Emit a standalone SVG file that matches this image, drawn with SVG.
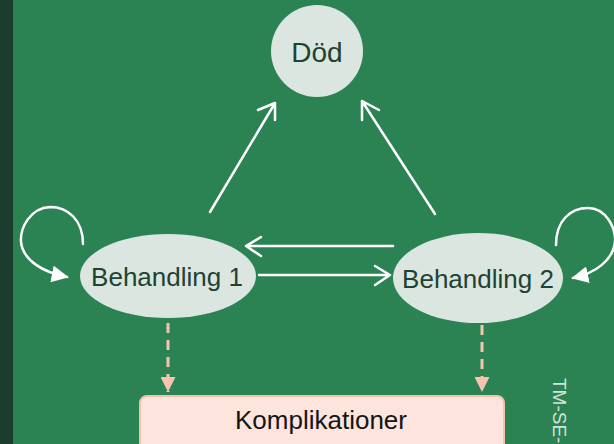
<svg xmlns="http://www.w3.org/2000/svg" width="614" height="444" viewBox="0 0 614 444">
<style>
.node{fill:#dce6e1}
.lbl{font-family:"Liberation Sans",Arial,sans-serif;font-size:26px;fill:#1d4332;text-anchor:middle}
.wl{stroke:#ffffff;stroke-width:2.5;fill:none;stroke-linecap:round;stroke-linejoin:round}
.dash{stroke:#f7c4b0;stroke-width:3;fill:none;stroke-dasharray:10 7}
</style>
<defs>
<marker id="tri" viewBox="0 0 10 10" refX="10" refY="5" markerWidth="15" markerHeight="15" markerUnits="userSpaceOnUse" orient="auto">
<path d="M0,0 L10,5 L0,10 Z" fill="#f7c4b0"/>
</marker>
<marker id="wtri" viewBox="0 0 10 10" refX="9" refY="5" markerWidth="17" markerHeight="17" markerUnits="userSpaceOnUse" orient="auto">
<path d="M0,0 L10,5 L0,10 Z" fill="#ffffff"/>
</marker>
</defs>
<rect x="0" y="0" width="614" height="444" fill="#2b8354"/>
<rect x="0" y="0" width="13" height="444" fill="#1a3d2d"/>

<g id="connectors">
<path class="wl" d="M210,212 L275,103 M258,110 L275,103 L275,120"/>
<path class="wl" d="M435,214 L362,101 M379,110 L362,101 L362,120"/>
<path class="wl" d="M393,246 L246,246 M261,237 L246,246 L261,256"/>
<path class="wl" d="M259,275 L390,275 M375,266 L390,275 L375,285"/>
<path class="wl" d="M83,244 C83,220 68,207 50,207 C30,208 20,228 21,242 C23,260 42,272 67,277" marker-end="url(#wtri)"/>
<path class="wl" d="M556,245 C556,221 570,208 588,208 C606,208 616,228 615,242 C613,260 596,273 573,278" marker-end="url(#wtri)"/>
<path class="dash" d="M168,323 L168,392" marker-end="url(#tri)"/>
<path class="dash" d="M482,325 L482,392" marker-end="url(#tri)"/>
</g>

<g id="dod">
<ellipse class="node" cx="317" cy="51" rx="46" ry="46"/>
<text class="lbl" x="317" y="62" style="font-size:28px">Död</text>
</g>
<g id="behandling1">
<ellipse class="node" cx="168" cy="276" rx="88" ry="42"/>
<text class="lbl" x="167" y="286">Behandling 1</text>
</g>
<g id="behandling2">
<ellipse class="node" cx="478" cy="278" rx="85" ry="45"/>
<text class="lbl" x="478" y="288">Behandling 2</text>
</g>
<g id="komplikationer">
<rect x="140" y="396" width="364" height="60" rx="7" fill="#fde4dc" stroke="#f6c0ac" stroke-width="2"/>
<text x="321" y="429" font-family="'Liberation Sans',Arial,sans-serif" font-size="26" fill="#151515" text-anchor="middle">Komplikationer</text>
</g>
<text transform="translate(553,378) rotate(90)" font-family="'Liberation Sans',Arial,sans-serif" font-size="19" fill="#d4e3da">TM-SE-</text>
</svg>
